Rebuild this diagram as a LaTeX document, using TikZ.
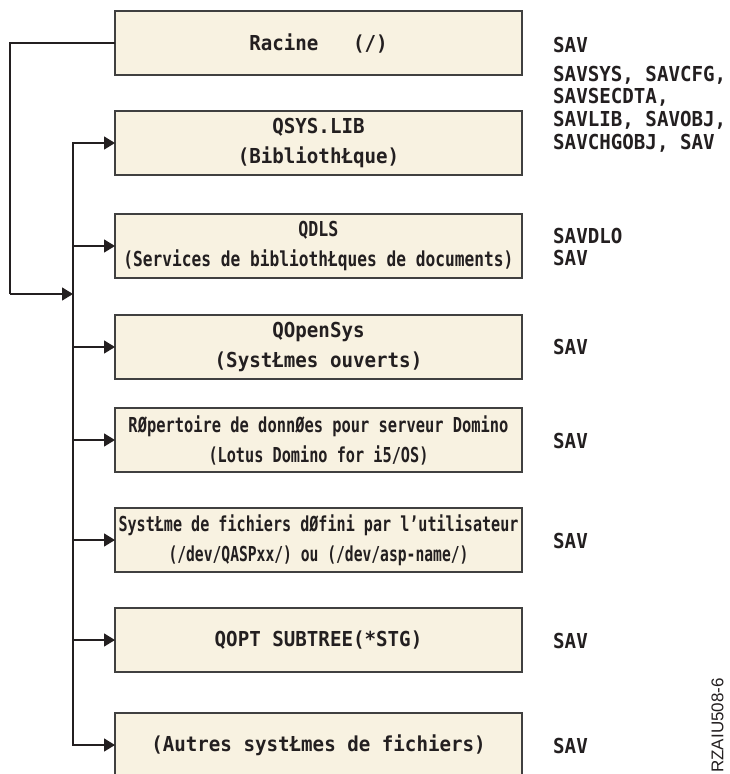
\documentclass[tikz,border=0pt]{standalone}
\usepackage{fontspec}
\usepackage{graphicx}
\usetikzlibrary{arrows.meta,calc}
\newfontfamily\dfont{DejaVu Sans Mono}[FakeStretch=0.93]
\newfontfamily\idfont{Liberation Sans}
\definecolor{boxfill}{RGB}{248,242,225}
\definecolor{ink}{RGB}{35,31,32}
\newcommand{\sqz}[2]{\resizebox{#1}{\height}{#2}}

\begin{document}
\begin{tikzpicture}[x=1pt,y=-1pt,
  fsbox/.style={draw=black!75, line width=1.1pt, fill=boxfill,
    minimum width=407pt, minimum height=64pt, inner sep=0pt, outer sep=0pt,
    align=center, text=ink, font={\dfont\bfseries\fontsize{20.6}{30}\selectfont}},
  cmd/.style={anchor=west, inner sep=0pt, align=left, text=ink,
    font={\dfont\bfseries\fontsize{20.6}{22.7}\selectfont}},
  conn/.style={draw=ink, line width=1.5pt},
  arr/.style={conn, -{Triangle[length=11pt,width=13pt]}},
]
\useasboundingbox (0,0) rectangle (729,774);

% boxes
\node[fsbox] (racine) at (318.5,43) {Racine\ \ \ (/)};
\node[fsbox] (qsys) at (318.5,143) {QSYS.LIB\\(BibliothŁque)};
\node[fsbox] (qdls) at (318.5,246) {\sqz{40pt}{QDLS}\\\sqz{390pt}{(Services de bibliothŁques de documents)}};
\node[fsbox] (qopen) at (318.5,347) {QOpenSys\\(SystŁmes ouverts)};
\node[fsbox] (domino) at (318.5,440) {\sqz{380pt}{RØpertoire de donnØes pour serveur Domino}\\\sqz{220pt}{(Lotus Domino for i5/OS)}};
\node[fsbox] (udfs) at (318.5,540) {\sqz{400pt}{SystŁme de fichiers dØfini par l’utilisateur}\\\sqz{300pt}{(/dev/QASPxx/) ou (/dev/asp-name/)}};
\node[fsbox] (qopt) at (318.5,640) {QOPT SUBTREE(*STG)};
\node[fsbox] (autres) at (318.5,745) {(Autres systŁmes de fichiers)};

% commands
\node[cmd] (c1) at (553,45) {SAV};
\node[cmd] (c2) at (553,109) {SAVSYS, SAVCFG,\\SAVSECDTA,\\SAVLIB, SAVOBJ,\\SAVCHGOBJ, SAV};
\node[cmd] (c3) at (553,247) {SAVDLO\\SAV};
\node[cmd] (c4) at (553,347) {SAV};
\node[cmd] (c5) at (553,441) {SAV};
\node[cmd] (c6) at (553,541) {SAV};
\node[cmd] (c7) at (553,641) {SAV};
\node[cmd] (c8) at (553,746) {SAV};

% figure id
\node[rotate=90, anchor=east, inner sep=0pt, text=ink,
  font={\idfont\fontsize{17}{20}\selectfont}] (figid) at (717.5,678) {RZAIU508-6};

% connectors
\coordinate (trunk) at (73,0);
\coordinate (outer) at (10,294);
\coordinate (join) at (73,294);
\draw[conn] (racine.west) -| (outer);
\draw[arr] (outer) -- (join);
\draw[arr] (autres.west -| trunk) |- (qsys.west);
\draw[arr] (qsys.west -| trunk) |- (autres.west);
\draw[arr] (qdls.west -| trunk) -- (qdls.west);
\draw[arr] (qopen.west -| trunk) -- (qopen.west);
\draw[arr] (domino.west -| trunk) -- (domino.west);
\draw[arr] (udfs.west -| trunk) -- (udfs.west);
\draw[arr] (qopt.west -| trunk) -- (qopt.west);
\end{tikzpicture}
\end{document}
